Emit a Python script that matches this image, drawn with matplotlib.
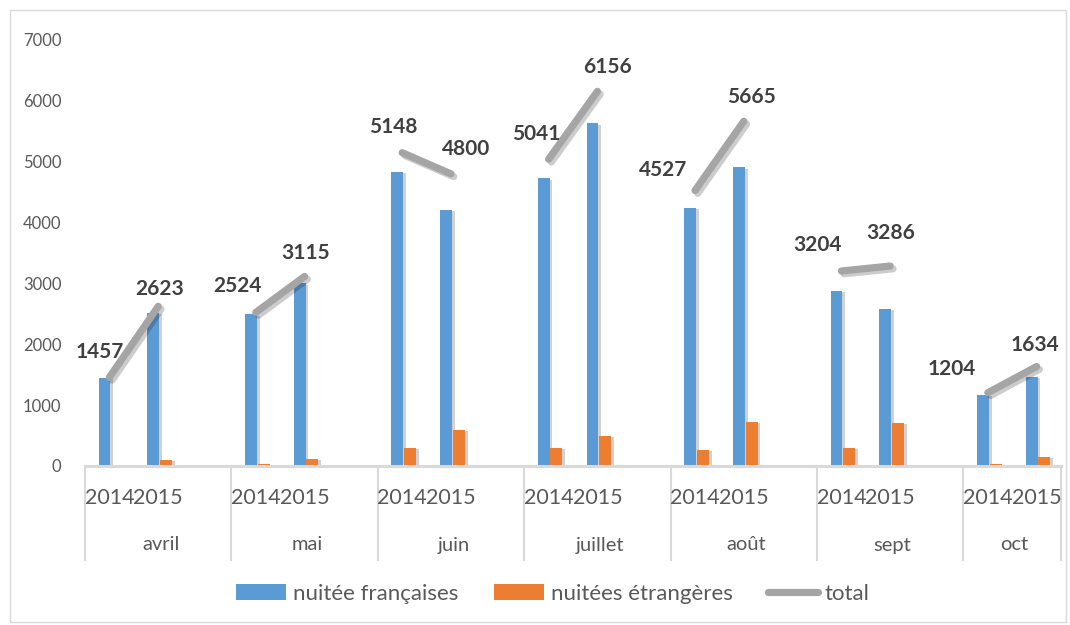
import matplotlib
matplotlib.use("Agg")
import matplotlib.pyplot as plt
import matplotlib.patheffects as pe
from matplotlib.patches import Patch, Rectangle
from matplotlib.lines import Line2D

plt.rcParams['font.family'] = ['Lato', 'DejaVu Sans']

# donnees
mois = ["avril", "mai", "juin", "juillet", "août", "sept", "oct"]
annees = ["2014", "2015"]
francaises = [1445, 2520, 2490, 3000, 4830, 4205, 4730, 5630, 4240, 4910, 2875, 2580, 1170, 1465]
etrangeres = [10, 100, 30, 115, 300, 590, 300, 495, 265, 725, 300, 705, 30, 150]
total = [1457, 2623, 2524, 3115, 5148, 4800, 5041, 6156, 4527, 5665, 3204, 3286, 1204, 1634]

# decalage des etiquettes (pixels) par rapport au point
decal = [(-10, 25), (1, 17), (-18, 26), (1, 23), (-9, 26), (15, 25), (-12, 25),
         (10, 24), (-32, 20), (8, 24), (-24, 26), (0, 33), (-36, 24), (-2, 22)]

bleu = "#5B9BD5"
orange = "#ED7D31"
gris = "#A5A5A5"

W, H = 1070, 625
fig = plt.figure(figsize=(W / 100, H / 100), dpi=100)
ax = fig.add_axes([85 / W, (H - 466) / H, (1061 - 85) / W, (466 - 40) / H])

# 3 categories par mois (la 3e vide), 2 pour octobre
pos = []
for m in range(len(mois)):
    pos += [3 * m, 3 * m + 1]
ncat = 3 * (len(mois) - 1) + 2

ombre = [pe.SimplePatchShadow(offset=(2, -1), shadow_rgbFace="#000000", alpha=0.18), pe.Normal()]
b1 = ax.bar([p - 0.10 for p in pos], francaises, width=0.245, color=bleu, zorder=2)
b2 = ax.bar([p + 0.16 for p in pos], etrangeres, width=0.245, color=orange, zorder=2)
for r in list(b1) + list(b2):
    r.set_path_effects(ombre)

ombre_l = [pe.SimpleLineShadow(offset=(2, -2), shadow_color="#000000", alpha=0.2), pe.Normal()]
for m in range(len(mois)):
    xs = pos[2 * m:2 * m + 2]
    ys = total[2 * m:2 * m + 2]
    ax.plot(xs, ys, color=gris, lw=5.2, solid_capstyle="round", zorder=3, path_effects=ombre_l)

for i, p in enumerate(pos):
    ax.annotate(str(total[i]), (p, total[i]), xytext=decal[i], textcoords="offset pixels",
                ha="center", va="center", fontsize=15, fontweight="bold", color="#404040", zorder=4)

ax.set_xlim(-0.5, ncat - 0.5)
ax.set_ylim(0, 7000)
ax.set_yticks(range(0, 7001, 1000))
ax.tick_params(axis="y", length=0, labelsize=12, labelcolor="#595959", pad=17)
ax.set_xticks([])
for s in ["top", "right", "left"]:
    ax.spines[s].set_visible(False)
ax.spines["bottom"].set_color("#D9D9D9")
ax.spines["bottom"].set_linewidth(2.2)

# axe a deux niveaux
tr = ax.get_xaxis_transform()
axh = 466 - 40
y_annee = -(498 - 466) / axh
y_mois = -(545 - 466) / axh
y_bas = -(560 - 466) / axh
for i, p in enumerate(pos):
    ax.text(p, y_annee, annees[i % 2], transform=tr, ha="center", va="center",
            fontsize=15.5, color="#595959")
bords = [-0.5]
for m in range(len(mois)):
    debut = 3 * m - 0.5
    fin = debut + (3 if m < len(mois) - 1 else 2)
    bords.append(fin)
    ax.text((debut + fin) / 2 + 0.05, y_mois, mois[m], transform=tr, ha="center", va="center",
            fontsize=14.5, color="#595959")
for b in bords:
    ax.plot([b, b], [0, y_bas], transform=tr, color="#D9D9D9", lw=1.5, clip_on=False)

# legende
handles = [Patch(facecolor=bleu), Patch(facecolor=orange),
           Line2D([0], [0], color=gris, lw=5.2, solid_capstyle="round")]
fig.legend(handles, ["nuitée françaises", "nuitées étrangères", "total"], loc="center",
           bbox_to_anchor=(553 / W, (H - 594) / H), ncol=3, frameon=False,
           fontsize=16, labelcolor="#595959", handlelength=2.25, handleheight=0.7,
           handletextpad=0.3, columnspacing=1.6)

# cadre du graphique
fig.patches.append(Rectangle((10 / W, 3 / H), (1066 - 10) / W, (H - 13) / H,
                             transform=fig.transFigure, fill=False, edgecolor="#D9D9D9", lw=1))

fig.savefig("out.png", dpi=100)
